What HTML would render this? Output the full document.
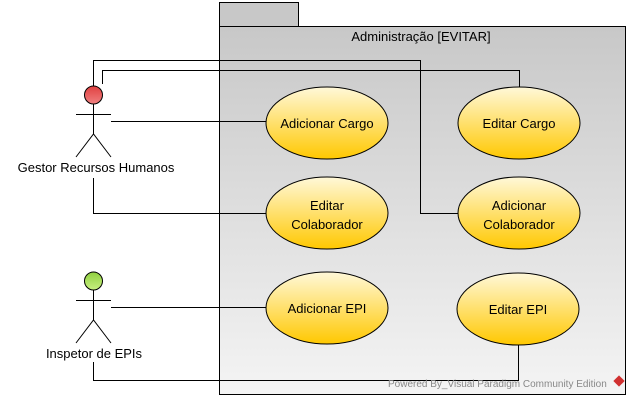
<!DOCTYPE html>
<html><head><style>body{margin:0;background:#fff}</style></head><body>
<svg width="631" height="400" xmlns="http://www.w3.org/2000/svg" font-family="Liberation Sans, sans-serif" font-size="13">
<defs>
<linearGradient id="pk" x1="0" y1="0" x2="0" y2="1"><stop offset="0" stop-color="#c8c8c8"/><stop offset="1" stop-color="#f4f4f4"/></linearGradient>
<linearGradient id="uc" x1="0" y1="0" x2="0" y2="1"><stop offset="0" stop-color="#fff8d8"/><stop offset="1" stop-color="#ffc800"/></linearGradient>
<linearGradient id="r" x1="0" y1="0" x2="0" y2="1"><stop offset="0" stop-color="#e04040"/><stop offset="1" stop-color="#f08080"/></linearGradient>
<linearGradient id="g" x1="0" y1="0" x2="0" y2="1"><stop offset="0" stop-color="#90d040"/><stop offset="1" stop-color="#c8f080"/></linearGradient>
</defs>
<rect x="219.5" y="2.5" width="79" height="24" fill="#c8c8c8" stroke="#000"/>
<rect x="219.5" y="26.5" width="406" height="368" fill="url(#pk)" stroke="#000"/>
<text x="421" y="41" text-anchor="middle">Administração [EVITAR]</text>
<g fill="none" stroke="#000">
<polyline points="93.5,86 93.5,60.5 420.5,60.5 420.5,213.5 458,213.5"/>
<polyline points="102.5,84 102.5,70.5 519.5,70.5 519.5,87"/>
<line x1="111" y1="121.5" x2="266" y2="121.5"/>
<polyline points="93.5,178 93.5,213.5 266,213.5"/>
<line x1="111" y1="307.5" x2="266" y2="307.5"/>
<polyline points="93.5,362 93.5,380.5 518.5,380.5 518.5,345"/>
</g>
<g stroke="#000" fill="url(#uc)">
<ellipse cx="327" cy="123" rx="61" ry="36"/>
<ellipse cx="519" cy="123" rx="61" ry="36"/>
<ellipse cx="327" cy="213" rx="61" ry="36"/>
<ellipse cx="519" cy="213" rx="61" ry="36"/>
<ellipse cx="327" cy="308" rx="61" ry="36"/>
<ellipse cx="518" cy="309" rx="61" ry="36"/>
</g>
<g text-anchor="middle">
<text x="327" y="128">Adicionar Cargo</text>
<text x="519" y="128">Editar Cargo</text>
<text x="327" y="210">Editar</text><text x="327" y="229">Colaborador</text>
<text x="519" y="210">Adicionar</text><text x="519" y="229">Colaborador</text>
<text x="327" y="313">Adicionar EPI</text>
<text x="518" y="314">Editar EPI</text>
</g>
<g stroke="#000" fill="none">
<circle cx="93.5" cy="95" r="9" fill="url(#r)"/>
<line x1="76" y1="114.5" x2="111" y2="114.5"/><line x1="93.5" y1="104" x2="93.5" y2="134"/>
<polyline points="76,157 93.5,134 111,157"/>
<circle cx="93.5" cy="281" r="9" fill="url(#g)"/>
<line x1="76" y1="300.5" x2="111" y2="300.5"/><line x1="93.5" y1="290" x2="93.5" y2="320"/>
<polyline points="76,343 93.5,320 111,343"/>
</g>
<text x="96" y="172" text-anchor="middle">Gestor Recursos Humanos</text>
<text x="94" y="358" text-anchor="middle">Inspetor de EPIs</text>
<text x="388" y="387" font-size="10" fill="#888">Powered By_Visual Paradigm Community Edition</text>
<rect x="615" y="377" width="8" height="8" fill="#d03030" transform="rotate(45 619 381)"/>
</svg>
</body></html>
